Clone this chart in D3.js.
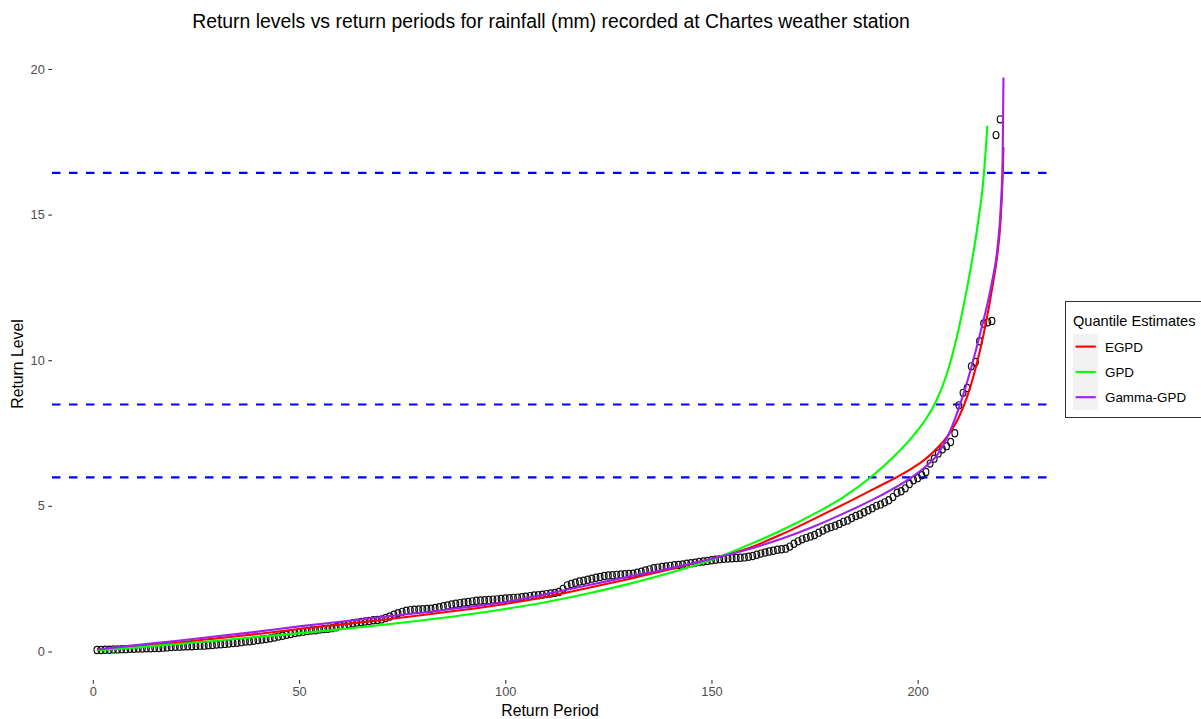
<!DOCTYPE html>
<html>
<head>
<meta charset="utf-8">
<script src="https://cdn.jsdelivr.net/npm/d3@7"></script>
<style>
  html, body { margin: 0; padding: 0; background: #fff; }
  svg { display: block; font-family: "Liberation Sans", Arial, sans-serif; }
</style>
</head>
<body>
<svg id="chart" width="1201" height="719"></svg>
<script>
// Sorted daily rainfall (mm), plotted against rank 1..n
const rainfall = [
  0.05, 0.05, 0.06, 0.06, 0.07, 0.07, 0.08, 0.08, 0.09, 0.09,
  0.10, 0.10, 0.11, 0.11, 0.12, 0.12, 0.13, 0.14, 0.15, 0.16,
  0.16, 0.17, 0.18, 0.18, 0.19, 0.20, 0.20, 0.21, 0.22, 0.24,
  0.25, 0.26, 0.27, 0.29, 0.30, 0.32, 0.34, 0.35, 0.37, 0.39,
  0.41, 0.43, 0.45, 0.48, 0.51, 0.54, 0.57, 0.60, 0.63, 0.66,
  0.68, 0.70, 0.72, 0.73, 0.75, 0.77, 0.78, 0.80, 0.83, 0.87,
  0.90, 0.94, 0.97, 0.99, 1.01, 1.03, 1.05, 1.07, 1.08, 1.10,
  1.15, 1.20, 1.26, 1.31, 1.36, 1.40, 1.42, 1.43, 1.44, 1.45,
  1.46, 1.47, 1.49, 1.52, 1.55, 1.58, 1.61, 1.64, 1.66, 1.68,
  1.70, 1.72, 1.74, 1.75, 1.76, 1.77, 1.78, 1.79, 1.80, 1.82,
  1.83, 1.84, 1.85, 1.86, 1.88, 1.90, 1.92, 1.93, 1.95, 1.97,
  1.99, 2.01, 2.04, 2.15, 2.27, 2.32, 2.36, 2.40, 2.43, 2.46,
  2.50, 2.53, 2.56, 2.59, 2.61, 2.62, 2.63, 2.64, 2.65, 2.66,
  2.67, 2.70, 2.74, 2.78, 2.82, 2.86, 2.88, 2.90, 2.92, 2.94,
  2.96, 2.97, 2.99, 3.01, 3.03, 3.05, 3.07, 3.09, 3.11, 3.13,
  3.15, 3.17, 3.18, 3.19, 3.20, 3.21, 3.22, 3.23, 3.25, 3.28,
  3.32, 3.36, 3.40, 3.43, 3.46, 3.49, 3.51, 3.53, 3.60, 3.70,
  3.78, 3.85, 3.90, 3.95, 4.00, 4.08, 4.15, 4.22, 4.27, 4.32,
  4.38, 4.45, 4.50, 4.58, 4.65, 4.70, 4.78, 4.85, 4.92, 5.00,
  5.05, 5.12, 5.19, 5.30, 5.45, 5.50, 5.60, 5.75, 5.88, 5.95,
  6.05, 6.16, 6.45, 6.62, 6.80, 6.94, 7.05, 7.19, 7.49, 8.45,
  8.88, 9.05, 9.79, 9.94, 10.65, 11.26, 11.30, 11.35, 17.73, 18.27
];

// Fitted quantile curves (return period, return level)
const egpdPeriod = [1, 10, 20, 30, 40, 50, 60, 70, 80, 90, 100, 110, 120, 130, 140, 150, 160, 167, 175, 183, 191, 195.4, 199, 202, 205, 207.5, 210, 212, 214, 216, 218.4, 219.3, 220.1, 220.6, 220.8];
const egpdLevel  = [0.07, 0.17, 0.30, 0.45, 0.60, 0.77, 0.92, 1.08, 1.25, 1.43, 1.63, 1.88, 2.18, 2.49, 2.82, 3.18, 3.60, 4.02, 4.56, 5.12, 5.70, 6.02, 6.32, 6.62, 7.02, 7.45, 8.05, 8.75, 9.70, 10.90, 12.75, 13.60, 14.80, 16.30, 17.31];

const gpdPeriod = [1, 10, 20, 30, 40, 50, 60, 70, 80, 90, 100, 110, 120, 130, 140, 150, 160, 167, 175, 182, 188.6, 194, 199, 202, 204.5, 207, 209.5, 212, 214.5, 216, 216.9];
const gpdLevel  = [0.04, 0.13, 0.25, 0.37, 0.50, 0.62, 0.76, 0.91, 1.07, 1.25, 1.46, 1.70, 1.99, 2.32, 2.70, 3.15, 3.72, 4.16, 4.73, 5.30, 5.98, 6.66, 7.42, 7.98, 8.60, 9.50, 10.80, 12.50, 14.60, 16.30, 18.05];

const ggpdPeriod = [1, 10, 20, 30, 40, 50, 60, 70, 80, 90, 100, 110, 120, 130, 140, 147, 157, 167, 175, 183, 191, 197.5, 201.5, 205, 207.5, 210.2, 212.9, 215.3, 217.9, 219.3, 220.1, 220.6, 220.8];
const ggpdLevel  = [0.07, 0.21, 0.36, 0.52, 0.68, 0.86, 1.02, 1.18, 1.34, 1.51, 1.70, 1.97, 2.27, 2.57, 2.86, 3.08, 3.43, 3.87, 4.30, 4.80, 5.35, 5.88, 6.30, 6.80, 7.45, 8.45, 9.70, 11.00, 12.60, 13.80, 15.15, 16.87, 19.71];

// Reference return levels (dashed horizontal lines)
const referenceLevels = [5.98, 8.48, 16.43];

const seriesNames  = ["EGPD", "GPD", "Gamma-GPD"];
const seriesColors = ["#FF0000", "#00FF00", "#A020F0"];

const xTicks = [0, 50, 100, 150, 200];
const yTicks = [0, 5, 10, 15, 20];

const titleText = "Return levels vs return periods for rainfall (mm) recorded at Chartes weather station";
const xTitle = "Return Period";
const yTitle = "Return Level";
const legendTitle = "Quantile Estimates";

// ---- layout ----
const svg = d3.select("#chart");
const panel = { left: 52, right: 1048, top: 48, bottom: 680 };

const x = d3.scaleLinear().domain([-9.9, 231.6]).range([panel.left, panel.right]);
const y = d3.scaleLinear().domain([-0.98, 20.72]).range([panel.bottom, panel.top]);

// title
svg.append("text")
  .attr("x", 551).attr("y", 28)
  .attr("text-anchor", "middle")
  .attr("font-size", 19.4)
  .attr("fill", "#000")
  .text(titleText);

// axes
const xAxis = svg.append("g")
  .attr("transform", `translate(0,${panel.bottom})`)
  .call(d3.axisBottom(x).tickValues(xTicks).tickSize(3.7).tickPadding(3.5));
const yAxis = svg.append("g")
  .attr("transform", `translate(${panel.left},0)`)
  .call(d3.axisLeft(y).tickValues(yTicks).tickSize(3.7).tickPadding(3.5));
[xAxis, yAxis].forEach(g => {
  g.select(".domain").remove();
  g.selectAll(".tick line").attr("stroke", "#333333").attr("stroke-width", 1.1);
  g.selectAll(".tick text").attr("fill", "#4D4D4D").attr("font-size", 12.8)
    .attr("font-family", "'Liberation Sans', Arial, sans-serif");
});

// axis titles
svg.append("text")
  .attr("x", (panel.left + panel.right) / 2).attr("y", 716)
  .attr("text-anchor", "middle").attr("font-size", 15.8).attr("fill", "#000")
  .text(xTitle);
svg.append("text")
  .attr("transform", `translate(23,${(panel.top + panel.bottom) / 2}) rotate(-90)`)
  .attr("text-anchor", "middle").attr("font-size", 15.8).attr("fill", "#000")
  .text(yTitle);

// dashed reference lines
svg.append("g").selectAll("line")
  .data(referenceLevels).join("line")
  .attr("x1", panel.left).attr("x2", panel.right)
  .attr("y1", d => y(d)).attr("y2", d => y(d))
  .attr("stroke", "#0000FF").attr("stroke-width", 2.2)
  .attr("stroke-dasharray", "8.5,8.5");

// empirical points
svg.append("g").selectAll("ellipse")
  .data(rainfall).join("ellipse")
  .attr("cx", (d, i) => x(i + 1))
  .attr("cy", d => y(d))
  .attr("rx", 2.9).attr("ry", 3.6)
  .attr("fill", "none")
  .attr("stroke", "#111").attr("stroke-width", 1.2);

// fitted curves
const line = d3.line().x(d => x(d[0])).y(d => y(d[1])).curve(d3.curveMonotoneX);
const curves = [
  d3.zip(egpdPeriod, egpdLevel),
  d3.zip(gpdPeriod, gpdLevel),
  d3.zip(ggpdPeriod, ggpdLevel)
];
svg.append("g").selectAll("path")
  .data(curves).join("path")
  .attr("d", line)
  .attr("fill", "none")
  .attr("stroke", (d, i) => seriesColors[i])
  .attr("stroke-width", 2.1)
  .attr("stroke-linejoin", "round");

// legend
const lg = svg.append("g");
lg.append("rect")
  .attr("x", 1065.5).attr("y", 301.5).attr("width", 150).attr("height", 116)
  .attr("fill", "#fff").attr("stroke", "#333").attr("stroke-width", 1);
lg.append("text")
  .attr("x", 1073).attr("y", 326)
  .attr("font-size", 14.6).attr("fill", "#000")
  .text(legendTitle);
const keys = lg.selectAll("g.key").data(seriesNames).join("g")
  .attr("class", "key")
  .attr("transform", (d, i) => `translate(1073,${334 + i * 25.3})`);
keys.append("rect")
  .attr("width", 25.3).attr("height", 25.3).attr("fill", "#F2F2F2");
keys.append("line")
  .attr("x1", 2.5).attr("x2", 22.8).attr("y1", 12.6).attr("y2", 12.6)
  .attr("stroke", (d, i) => seriesColors[i]).attr("stroke-width", 2.1);
keys.append("text")
  .attr("x", 32).attr("y", 17.5)
  .attr("font-size", 13.4).attr("fill", "#000")
  .text(d => d);
</script>
</body>
</html>
